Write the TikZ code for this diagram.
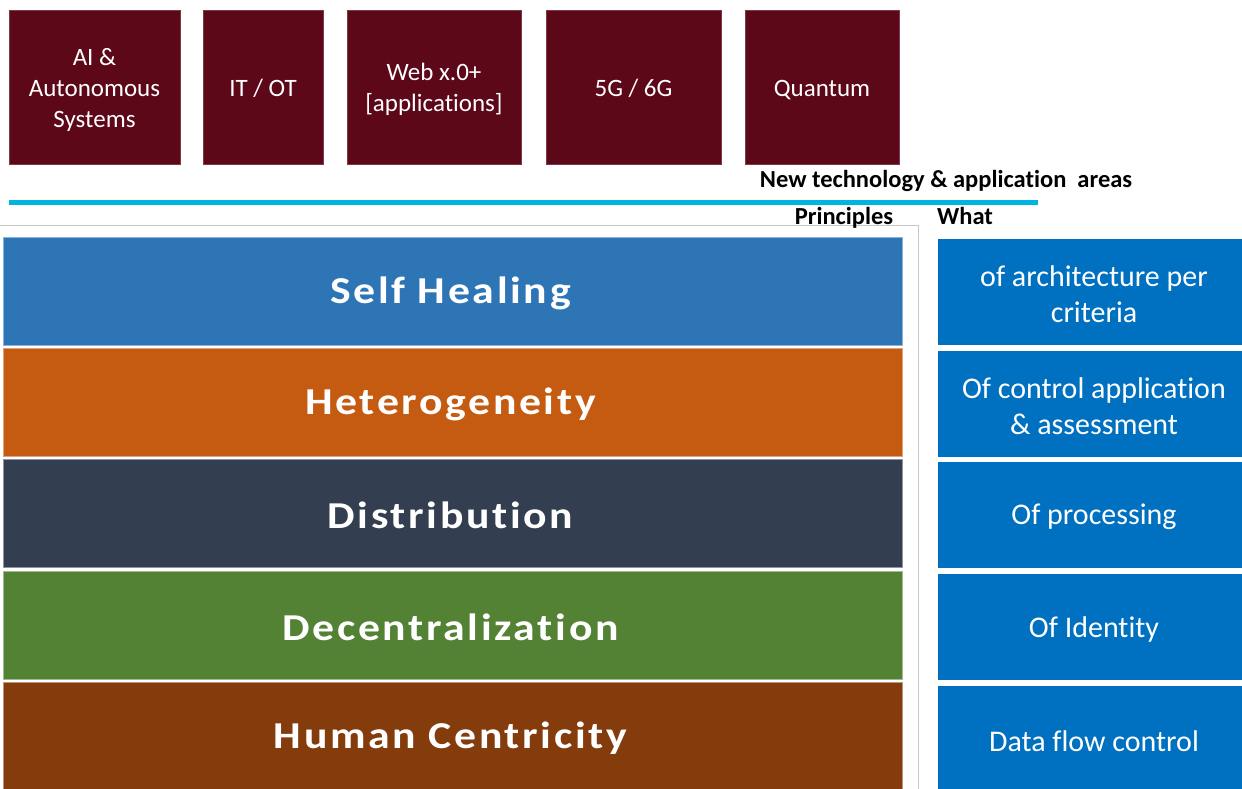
\documentclass[tikz,border=0pt]{standalone}
\usepackage{fontspec}
\setmainfont[Ligatures=NoCommon]{Carlito}
\newfontfamily\barfont[FakeStretch=1.15,LetterSpace=7,Ligatures=NoCommon]{Carlito}
\definecolor{maroon}{HTML}{5C0818}
\definecolor{cyanline}{HTML}{00B4E0}
\definecolor{cBlue}{HTML}{2E75B6}
\definecolor{cOrange}{HTML}{C55A11}
\definecolor{cSlate}{HTML}{333F50}
\definecolor{cGreen}{HTML}{548235}
\definecolor{cBrown}{HTML}{843C0C}
\definecolor{cWhat}{HTML}{0070C0}
\definecolor{frame}{HTML}{C8C8C8}
\tikzset{
  x=1pt, y=-1pt,
  techbox/.style={fill=maroon, draw=maroon!80!white, line width=0.6pt, minimum height=154pt, inner sep=0pt},
  techtext/.style={text=white, font=\fontsize{25}{31}\selectfont, align=center, inner sep=0pt},
  barbox/.style={fill=#1, draw=#1!55!white, line width=1pt, minimum width=899pt, minimum height=108pt, inner sep=0pt},
  bartext/.style={text=white, font=\barfont\bfseries\fontsize{38}{40}\selectfont, inner sep=0pt},
  whatbox/.style={fill=cWhat, minimum width=304pt, minimum height=106pt, inner sep=0pt},
  whattext/.style={text=white, font=\fontsize{30}{36}\selectfont, align=center, inner sep=0pt},
  heading/.style={font=\bfseries\fontsize{24.5}{28}\selectfont, inner sep=0pt}
}
\begin{document}
\begin{tikzpicture}
\useasboundingbox (0,0) rectangle (1242,789);
% top technology boxes
\node[techbox, minimum width=171pt] (ai) at (94.5,87) {};
\node[techbox, minimum width=120pt] (itot) at (263,87) {};
\node[techbox, minimum width=174pt] (web) at (434,87) {};
\node[techbox, minimum width=175pt] (g56) at (633.5,87) {};
\node[techbox, minimum width=154pt] (quantum) at (822,87) {};
\node[techtext] (aiT) at ([yshift=-3pt]ai.center) {AI \&\\Autonomous\\Systems};
\node[techtext] (itotT) at ([yshift=-1pt]itot.center) {IT / OT};
\node[techtext] (webT) at ([yshift=-2pt]web.center) {Web x.0+\\{[applications]}};
\node[techtext] (g56T) at ([yshift=-1pt]g56.center) {5G / 6G};
\node[techtext] (quantumT) at ([yshift=-3pt]quantum.center) {Quantum};
% heading
\node[heading, anchor=base] (newtech) at (946,187) {New technology \& application\ \ areas};
% cyan line
\coordinate (lineL) at (9,202.5);
\coordinate (lineR) at (1038,202.5);
\draw[cyanline, line width=5.5pt] (lineL) -- (lineR);
% frame
\draw[frame, line width=1pt] (0,225.5) -- (918.5,225.5) -- (918.5,789);
% headings
\node[heading, anchor=base] (principles) at (844,224) {Principles};
\node[heading, anchor=base west] (what) at (937,224) {What};
% bars
\node[barbox=cBlue] (self) at (452.5,291) {};
\node[barbox=cOrange] (het) at (452.5,402) {};
\node[barbox=cSlate] (dist) at (452.5,513.5) {};
\node[barbox=cGreen] (dec) at (452.5,625) {};
\node[barbox=cBrown] (hum) at (452.5,736) {};
\node[bartext] (selfT) at ([xshift=-2pt,yshift=-2pt]self.center) {Self Healing};
\node[bartext] (hetT) at ([xshift=-2pt,yshift=-2pt]het.center) {Heterogeneity};
\node[bartext] (distT) at ([xshift=-2pt,yshift=-2pt]dist.center) {Distribution};
\node[bartext] (decT) at ([xshift=-2pt,yshift=-2pt]dec.center) {Decentralization};
\node[bartext] (humT) at ([xshift=-2pt,yshift=-2pt]hum.center) {Human Centricity};
% what boxes
\node[whatbox] (w1) at (1090,292) {};
\node[whatbox] (w2) at (1090,404) {};
\node[whatbox] (w3) at (1090,515) {};
\node[whatbox] (w4) at (1090,627) {};
\node[whatbox] (w5) at (1090,739) {};
\node[whattext] (w1T) at ([xshift=4pt,yshift=-2pt]w1.center) {of architecture per\\criteria};
\node[whattext] (w2T) at ([xshift=4pt,yshift=-2pt]w2.center) {Of control application\\\& assessment};
\node[whattext] (w3T) at ([xshift=4pt,yshift=-2pt]w3.center) {Of processing};
\node[whattext] (w4T) at ([xshift=4pt,yshift=-2pt]w4.center) {Of Identity};
\node[whattext] (w5T) at ([xshift=4pt,yshift=-2pt]w5.center) {Data flow control};
\end{tikzpicture}
\end{document}
